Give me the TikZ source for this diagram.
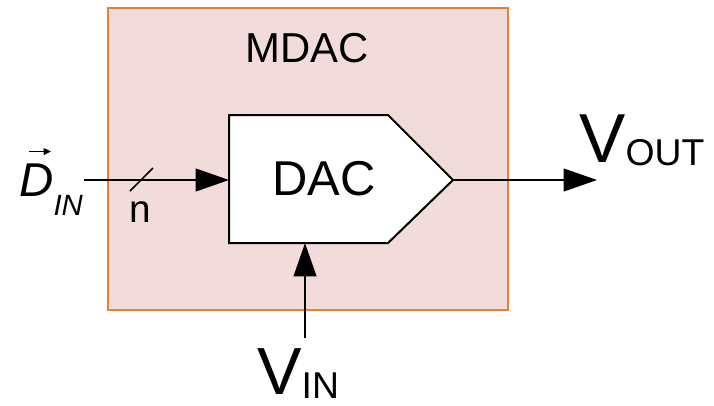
\documentclass[tikz,border=0pt]{standalone}
\usepackage{fontspec}
\setmainfont{Liberation Sans}
\usetikzlibrary{positioning,arrows.meta}
\definecolor{frame}{HTML}{ED7D31}
\definecolor{lpink}{HTML}{F2DCDB}
\definecolor{dark}{HTML}{000000}
\tikzset{
  blk/.style ={draw=frame, line width=1.6pt, fill=lpink},
  dacbox/.style={draw=dark, line width=1.5pt, fill=white},
  sig/.style ={-{Triangle[length=25pt, width=17pt]}, line width=1.5pt, draw=dark},
  vecarr/.style={-{Triangle[length=5.5pt, width=5pt]}, line width=1pt, draw=dark},
  bus/.style ={line width=1.2pt, draw=dark},
  lab/.style ={inner sep=0pt, text=dark},
}
\newcommand{\fsz}[1]{\fontsize{#1}{#1}\selectfont}

\begin{document}
\begin{tikzpicture}[x=0.75pt, y=-0.75pt]
  \useasboundingbox (0,0) rectangle (714,405);

  % ---- MDAC block ----
  \draw[blk] (108,8) rectangle (508,310);
  \node[lab, anchor=base] (mdac) at (307.5,62) {\fsz{31.4}MDAC};

  % ---- DAC (pointed box) ----
  \coordinate (dacW) at (229,180);
  \coordinate (dacS) at (305,243);
  \coordinate (dacE) at (453,180);
  \draw[dacbox] (229,115) -- (388,115) -- (dacE) -- (388,243) -- (229,243) -- cycle;
  \node[lab, anchor=base] (dac) at (324,195) {\fsz{36.7}DAC};

  % ---- digital input, n-bit bus ----
  \coordinate (din) at (84,180);
  \draw[sig] (din) -- (dacW);
  \draw[bus] (130,191) -- (153,168);
  \node[lab, anchor=base] (nbits) at (140,222) {\fsz{29}n};
  \node[lab, anchor=base west] (dinlab) at (19,196)
      {\itshape\fsz{35.6}D\raisebox{-14.5pt}{\fsz{22}IN}};
  \draw[vecarr] (29,151.5) -- (51,151.5);

  % ---- analog output ----
  \coordinate (vout) at (597,180);
  \draw[sig] (dacE) -- (vout);
  \node[lab, anchor=base west] (voutlab) at (579,162)
      {\fsz{52}V\raisebox{-2.5pt}{\fsz{28}OUT}};

  % ---- analog input ----
  \coordinate (vin) at (305,338);
  \draw[sig] (vin) -- (dacS);
  \node[lab, anchor=base west] (vinlab) at (257,394)
      {\fsz{50}V\raisebox{-3.5pt}{\fsz{28}IN}};

\end{tikzpicture}
\end{document}
